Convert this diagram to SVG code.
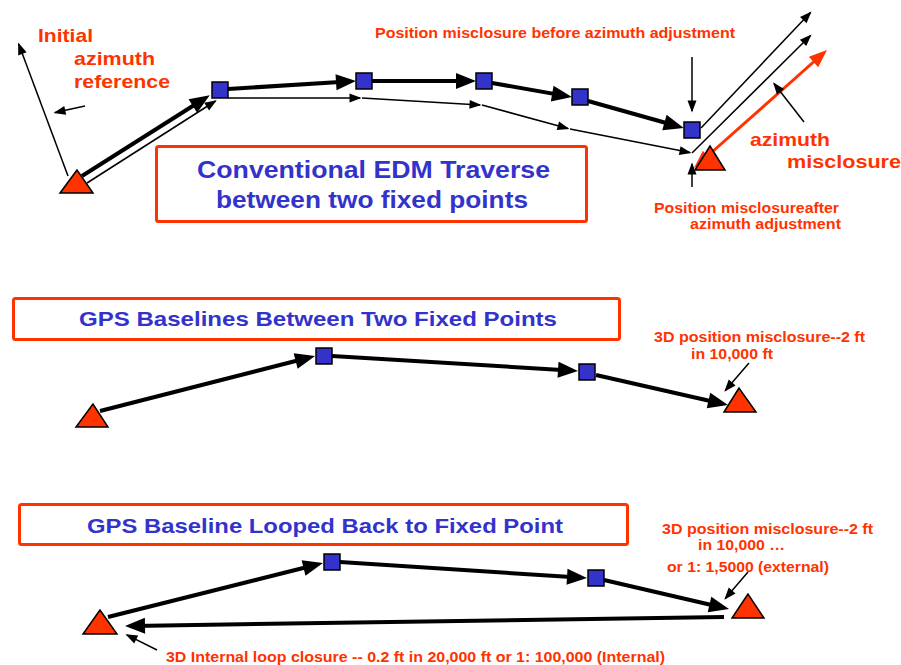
<svg xmlns="http://www.w3.org/2000/svg" width="901" height="665" viewBox="0 0 901 665">
<style>
.lbl{font-family:"Liberation Sans",Arial,sans-serif;font-weight:bold;fill:#FF3300}
.ttl{font-family:"Liberation Sans",Arial,sans-serif;font-weight:bold;fill:#3333CC}
.box{fill:#fff;stroke:#FF3300;stroke-width:3}
.tri{fill:#FF3300;stroke:#000;stroke-width:1.5;stroke-linejoin:miter}
.sq{fill:#3333CC;stroke:#000;stroke-width:1.5}
.thick{stroke:#000;stroke-width:4;fill:none;marker-end:url(#ah)}
.thin{stroke:#000;stroke-width:1.5;fill:none;marker-end:url(#ahs)}
.red{stroke:#FF3300;stroke-width:3;fill:none;marker-start:url(#ahr);marker-end:url(#ahr)}
</style>
<defs>
<marker id="ah" markerUnits="userSpaceOnUse" markerWidth="20" markerHeight="16" refX="12" refY="8" orient="auto" overflow="visible"><path d="M0,0 L20,8 L0,16 z" fill="#000"/></marker>
<marker id="ahs" markerUnits="userSpaceOnUse" markerWidth="12" markerHeight="9" refX="10.5" refY="4.5" orient="auto" overflow="visible"><path d="M0,0 L12,4.5 L0,9 z" fill="#000"/></marker>
<marker id="ahr" markerUnits="userSpaceOnUse" markerWidth="18" markerHeight="14" refX="12" refY="7" orient="auto-start-reverse" overflow="visible"><path d="M0,0 L18,7 L0,14 z" fill="#FF3300"/></marker>
</defs>

<g id="title-boxes">
<g id="box-edm"><rect class="box" x="156.5" y="146.5" width="430" height="75" rx="2"/>
<text class="ttl" x="197" y="178" font-size="23.5" textLength="353" lengthAdjust="spacingAndGlyphs">Conventional EDM Traverse</text>
<text class="ttl" x="216" y="208" font-size="23.5" textLength="312" lengthAdjust="spacingAndGlyphs">between two fixed points</text></g>
<g id="box-gps1"><rect class="box" x="13.5" y="298.5" width="606" height="41" rx="2"/>
<text class="ttl" x="79" y="326" font-size="21" textLength="478" lengthAdjust="spacingAndGlyphs">GPS Baselines Between Two Fixed Points</text></g>
<g id="box-gps2"><rect class="box" x="19.5" y="504.5" width="608" height="40" rx="2"/>
<text class="ttl" x="87" y="533" font-size="21" textLength="476" lengthAdjust="spacingAndGlyphs">GPS Baseline Looped Back to Fixed Point</text></g>
</g>

<g id="connectors">
<line class="thick" x1="82" y1="176" x2="203" y2="99.5"/>
<line class="thin" x1="87" y1="183" x2="215.5" y2="101"/>
<line class="thick" x1="228" y1="89" x2="348" y2="81.5"/>
<line class="thick" x1="372" y1="81" x2="468" y2="81"/>
<line class="thick" x1="492" y1="83" x2="564" y2="95.6"/>
<line class="thick" x1="588" y1="101" x2="676" y2="125.8"/>
<line class="thin" x1="228" y1="98" x2="360" y2="98"/>
<line class="thin" x1="362" y1="98" x2="480" y2="105"/>
<line class="thin" x1="482" y1="105" x2="568" y2="128.5"/>
<line class="thin" x1="570" y1="129" x2="690" y2="152.6"/>
<line class="thin" x1="701" y1="128" x2="810.5" y2="12.5"/>
<line class="thin" x1="692" y1="153" x2="810.5" y2="35.5"/>
<line class="red" x1="698.5" y1="164" x2="822.5" y2="54"/>
<line class="thin" x1="804" y1="122" x2="774" y2="83.5"/>
<line class="thin" x1="692" y1="57" x2="692" y2="111"/>
<line class="thin" x1="692" y1="187" x2="692" y2="164"/>
<line class="thin" x1="68" y1="176" x2="18.7" y2="44"/>
<line class="thin" x1="85" y1="106" x2="55" y2="112.6"/>
<line class="thick" x1="100" y1="411" x2="307.3" y2="358"/>
<line class="thick" x1="332" y1="356" x2="570" y2="370.5"/>
<line class="thick" x1="596" y1="375" x2="720.2" y2="403.2"/>
<line class="thin" x1="749" y1="363" x2="725.3" y2="390.5"/>
<line class="thick" x1="108" y1="617" x2="315.2" y2="565"/>
<line class="thick" x1="340" y1="562" x2="579" y2="577.5"/>
<line class="thick" x1="604" y1="580" x2="721.2" y2="607.2"/>
<line class="thick" x1="724" y1="617" x2="133" y2="625.9"/>
<line class="thin" x1="748" y1="572" x2="725.3" y2="598.5"/>
<line class="thin" x1="157" y1="650" x2="126.8" y2="634.9"/>
</g>

<g id="tri-start"><polygon class="tri" points="77,170 60,193 93,193"/></g>
<g id="tri-end"><polygon class="tri" points="710,146 695,170 725,170"/></g>
<g id="sq1"><rect class="sq" x="212" y="82" width="16" height="16"/></g>
<g id="sq2"><rect class="sq" x="356" y="73" width="16" height="16"/></g>
<g id="sq3"><rect class="sq" x="476" y="73" width="16" height="16"/></g>
<g id="sq4"><rect class="sq" x="572" y="89" width="16" height="16"/></g>
<g id="sq5"><rect class="sq" x="684" y="122" width="16" height="16"/></g>

<g id="gps1-start"><polygon class="tri" points="93,404 76,427 108,427"/></g>
<g id="gps1-p1"><rect class="sq" x="316" y="348" width="16" height="16"/></g>
<g id="gps1-p2"><rect class="sq" x="579" y="364" width="16" height="16"/></g>
<g id="gps1-end"><polygon class="tri" points="739,388 724,412 756,412"/></g>

<g id="gps2-start"><polygon class="tri" points="100,610 83,634 117,634"/></g>
<g id="gps2-p1"><rect class="sq" x="324" y="554" width="16" height="16"/></g>
<g id="gps2-p2"><rect class="sq" x="588" y="570" width="16" height="16"/></g>
<g id="gps2-end"><polygon class="tri" points="748,594 732,618 764,618"/></g>

<g id="labels">
<text class="lbl" x="38" y="42" font-size="19" textLength="55" lengthAdjust="spacingAndGlyphs">Initial</text>
<text class="lbl" x="74" y="65" font-size="19" textLength="81" lengthAdjust="spacingAndGlyphs">azimuth</text>
<text class="lbl" x="74" y="88" font-size="19" textLength="96" lengthAdjust="spacingAndGlyphs">reference</text>
<text class="lbl" x="375" y="37.5" font-size="14" textLength="360" lengthAdjust="spacingAndGlyphs">Position misclosure before azimuth adjustment</text>
<text class="lbl" x="750" y="146" font-size="19" textLength="80" lengthAdjust="spacingAndGlyphs">azimuth</text>
<text class="lbl" x="787" y="168" font-size="19" textLength="114" lengthAdjust="spacingAndGlyphs">misclosure</text>
<text class="lbl" x="654" y="213" font-size="14" textLength="185" lengthAdjust="spacingAndGlyphs">Position misclosureafter</text>
<text class="lbl" x="690" y="229" font-size="14" textLength="151" lengthAdjust="spacingAndGlyphs">azimuth adjustment</text>
<text class="lbl" x="654" y="342" font-size="14" textLength="211" lengthAdjust="spacingAndGlyphs">3D position misclosure--2 ft</text>
<text class="lbl" x="691" y="359" font-size="14" textLength="82" lengthAdjust="spacingAndGlyphs">in 10,000 ft</text>
<text class="lbl" x="662" y="534" font-size="14" textLength="211" lengthAdjust="spacingAndGlyphs">3D position misclosure--2 ft</text>
<text class="lbl" x="698" y="550" font-size="14" textLength="87" lengthAdjust="spacingAndGlyphs">in 10,000 …</text>
<text class="lbl" x="667" y="572" font-size="14" textLength="162" lengthAdjust="spacingAndGlyphs">or 1: 1,5000 (external)</text>
<text class="lbl" x="166" y="662" font-size="14" textLength="499" lengthAdjust="spacingAndGlyphs">3D Internal loop closure -- 0.2 ft in 20,000 ft or 1: 100,000 (Internal)</text>
</g>
</svg>
